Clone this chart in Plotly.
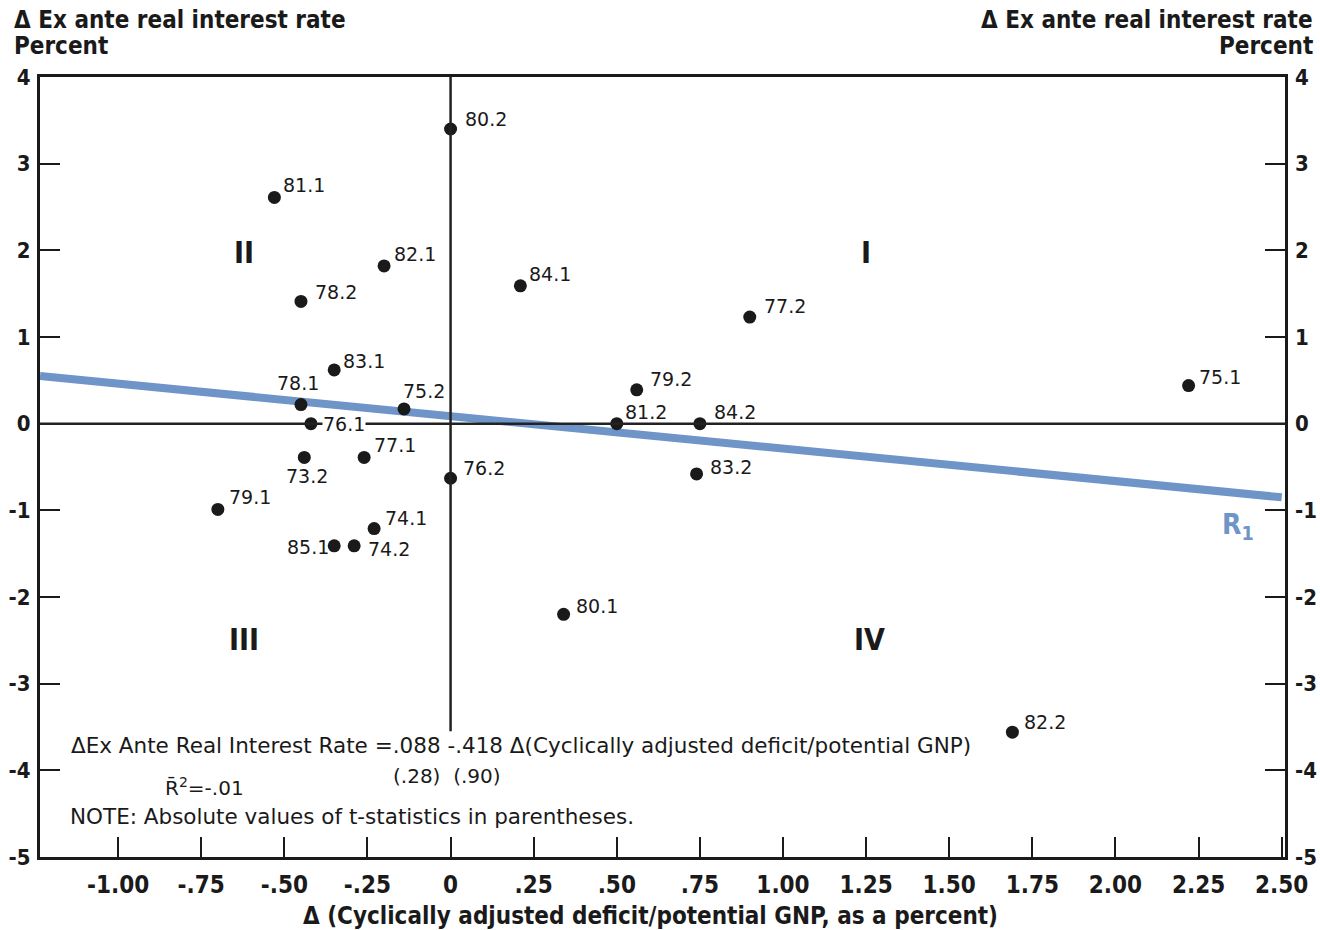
import plotly.graph_objects as go

# ---- data ----
labels = ["80.2", "81.1", "82.1", "78.2", "84.1", "77.2", "83.1", "78.1", "75.2", "76.1",
          "79.2", "81.2", "84.2", "75.1", "77.1", "73.2", "76.2", "83.2", "79.1", "74.1",
          "74.2", "85.1", "80.1", "82.2"]
deficit_change = [0.00, -0.53, -0.20, -0.45, 0.21, 0.90, -0.35, -0.45, -0.14, -0.42,
                  0.56, 0.50, 0.75, 2.22, -0.26, -0.44, 0.00, 0.74, -0.70, -0.23,
                  -0.29, -0.35, 0.34, 1.69]
rate_change = [3.40, 2.61, 1.82, 1.41, 1.59, 1.23, 0.62, 0.22, 0.17, 0.00,
               0.39, 0.00, 0.00, 0.44, -0.39, -0.39, -0.63, -0.58, -0.99, -1.21,
               -1.41, -1.41, -2.20, -3.56]

fit_x = [-1.235, 2.50]
fit_y = [0.55, -0.85]

x_ticks = [-1.00, -0.75, -0.50, -0.25, 0, 0.25, 0.50, 0.75, 1.00, 1.25, 1.50, 1.75, 2.00, 2.25, 2.50]
x_tick_text = ["-1.00", "-.75", "-.50", "-.25", "0", ".25", ".50", ".75", "1.00", "1.25",
               "1.50", "1.75", "2.00", "2.25", "2.50"]
y_ticks = [-5, -4, -3, -2, -1, 0, 1, 2, 3, 4]
y_tick_text = ["-5", "-4", "-3", "-2", "-1", "0", "1", "2", "3", "4"]

quadrants = ["I", "II", "III", "IV"]
quad_x = [1.25, -0.62, -0.62, 1.26]
quad_y = [1.98, 1.98, -2.49, -2.49]

# label offsets in pixels (style)
label_offsets = [(33, -10), (28, -12), (29, -12), (33, -9), (28, -12), (33, -11), (28, -9),
                 (-5, -22), (18, -18), (31, 0), (32, -11), (27, -12), (33, -12), (29, -9),
                 (29, -12), (1, 19), (31, -10), (32, -7), (30, -12), (30, -11), (33, 3),
                 (-28, 1), (31, -8), (31, -10)]

BOLD = "DejaVu Sans Condensed, Liberation Sans Narrow, DejaVu Sans, sans-serif"
REG = "DejaVu Sans, Verdana, sans-serif"
INK = "#1a1a1a"
BLUE = "#6f94c8"
XR = [-1.235, 2.51]
YR = [-5, 4]

fig = go.Figure()

# regression line R1
fig.add_trace(go.Scatter(x=fit_x, y=fit_y, mode="lines",
                         line=dict(color=BLUE, width=8), hoverinfo="skip", showlegend=False))

# zero lines
fig.add_shape(type="line", x0=XR[0], x1=XR[1], y0=0, y1=0, xref="x", yref="y",
              line=dict(color="#222", width=2.5), layer="above")
fig.add_shape(type="line", x0=0, x1=0, y0=-3.55, y1=4, xref="x", yref="y",
              line=dict(color="#222", width=2.5), layer="above")

# points
fig.add_trace(go.Scatter(x=deficit_change, y=rate_change, mode="markers",
                         marker=dict(color=INK, size=13), showlegend=False))

# invisible trace for right axis
fig.add_trace(go.Scatter(x=[0], y=[0], yaxis="y2", mode="markers",
                         marker=dict(opacity=0), showlegend=False, hoverinfo="skip"))

for lab, xv, yv, (dx, dy) in zip(labels, deficit_change, rate_change, label_offsets):
    fig.add_annotation(x=xv, y=yv, text=lab, showarrow=False, xshift=dx + 2, yshift=-dy,
                       font=dict(family=REG, size=19, color=INK),
                       bgcolor="white" if lab == "76.1" else None, borderpad=0)

for q, xv, yv in zip(quadrants, quad_x, quad_y):
    fig.add_annotation(x=xv, y=yv, text="<b>" + q + "</b>", showarrow=False,
                       font=dict(family=BOLD, size=30, color=INK))

fig.add_annotation(x=2.37, y=-1.19, text="<b>R<sub>1</sub></b>", showarrow=False,
                   font=dict(family=BOLD, size=28, color=BLUE))

# equation texts
fig.add_annotation(x=-1.145, y=-3.71, xanchor="left", showarrow=False,
                   text="ΔEx Ante Real Interest Rate =.088 -.418 Δ(Cyclically adjusted deficit/potential GNP)",
                   font=dict(family=REG, size=21.5, color=INK), bgcolor="white", borderpad=0)
fig.add_annotation(x=-0.18, y=-4.07, xanchor="left", showarrow=False, text="(.28)  (.90)",
                   font=dict(family=REG, size=20, color=INK))
fig.add_annotation(x=-0.865, y=-4.19, xanchor="left", showarrow=False, text="R\u0304<sup>2</sup>=-.01",
                   font=dict(family=REG, size=20, color=INK))
fig.add_annotation(x=-1.15, y=-4.53, xanchor="left", showarrow=False,
                   text="NOTE: Absolute values of t-statistics in parentheses.",
                   font=dict(family=REG, size=21.5, color=INK))

# axis titles
ttl = dict(family=BOLD, size=24, color=INK)
fig.add_annotation(xref="paper", yref="paper", x=-0.0225, y=1.073, xanchor="left", yanchor="middle",
                   showarrow=False, text="<b>Δ Ex ante real interest rate</b>", font=ttl)
fig.add_annotation(xref="paper", yref="paper", x=-0.0225, y=1.040, xanchor="left", yanchor="middle",
                   showarrow=False, text="<b>Percent</b>", font=ttl)
fig.add_annotation(xref="paper", yref="paper", x=1.024, y=1.073, xanchor="right", yanchor="middle",
                   showarrow=False, text="<b>Δ Ex ante real interest rate</b>", font=ttl)
fig.add_annotation(xref="paper", yref="paper", x=1.024, y=1.040, xanchor="right", yanchor="middle",
                   showarrow=False, text="<b>Percent</b>", font=ttl)
fig.add_annotation(xref="paper", yref="paper", x=0.49, y=-0.0756, xanchor="center", yanchor="middle",
                   showarrow=False,
                   text="<b>Δ (Cyclically adjusted deficit/potential GNP, as a percent)</b>", font=ttl)

tickfont = dict(family=BOLD, size=24, color=INK)
ytickfont = dict(family=BOLD, size=22, color=INK)
fig.update_layout(
    width=1320, height=930,
    margin=dict(l=40, r=35, t=77, b=73, autoexpand=False),
    paper_bgcolor="white", plot_bgcolor="white",
    showlegend=False,
    xaxis=dict(range=XR, tickvals=x_ticks, ticktext=["<b>%s</b>" % t for t in x_tick_text],
               ticks="inside", ticklen=20, tickwidth=2, tickcolor=INK, automargin=False,
               showline=True, linecolor=INK, linewidth=3, mirror=True,
               showgrid=False, zeroline=False, tickfont=tickfont, ticklabelstandoff=4),
    yaxis=dict(range=YR, tickvals=y_ticks, ticktext=["<b>%s</b>" % t for t in y_tick_text],
               ticks="inside", ticklen=20, tickwidth=2, tickcolor=INK, automargin=False,
               showline=True, linecolor=INK, linewidth=3, mirror=True,
               showgrid=False, zeroline=False, tickfont=ytickfont, ticklabelstandoff=2),
    yaxis2=dict(range=YR, tickvals=y_ticks, ticktext=["<b>%s</b>" % t for t in y_tick_text],
                overlaying="y", side="right", automargin=False,
                ticks="inside", ticklen=20, tickwidth=2, tickcolor=INK,
                showline=False, showgrid=False, zeroline=False, tickfont=ytickfont,
                ticklabelstandoff=9),
)

fig.write_html("out.html", config={"displayModeBar": False},
               post_script="document.body.style.margin='0';")
